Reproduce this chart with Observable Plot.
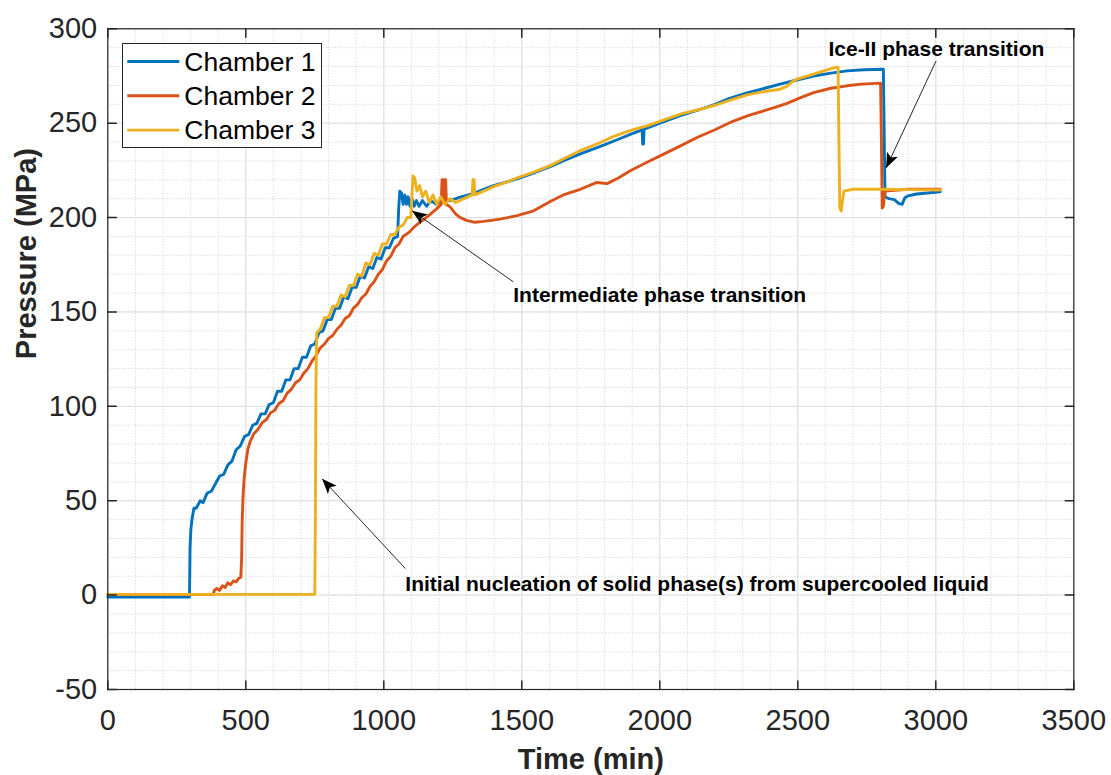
<!DOCTYPE html>
<html><head><meta charset="utf-8">
<script src="https://cdn.jsdelivr.net/npm/d3@7"></script>
<script src="https://cdn.jsdelivr.net/npm/@observablehq/plot@0.6"></script>
<style>
body{margin:0;background:#fff;}
#wrap{position:relative;width:1111px;height:775px;}
#legend{position:absolute;left:121.7px;top:42.7px;width:200.3px;height:105px;border:1px solid #262626;background:#fff;box-sizing:border-box;}
</style></head><body><div id="wrap"><div id="legend"></div></div>
<script>
// ---------- data ----------
const seriesNames = ["Chamber 1", "Chamber 2", "Chamber 3"];
const seriesColors = ["#0072BD", "#D95319", "#EDB120"];

const c1Time = [0, 296, 298, 301, 305, 312, 320, 335, 345, 360,
  375, 390, 405, 420, 435, 450, 465, 480, 495, 510,
  525, 540, 555, 570, 585, 600, 615, 630, 645, 660,
  675, 690, 705, 720, 735, 750, 765, 780, 795, 810,
  825, 840, 855, 870, 885, 900, 915, 930, 945, 960,
  975, 990, 1005, 1020, 1035, 1050, 1054, 1058, 1064, 1070,
  1076, 1082, 1088, 1095, 1102, 1110, 1118, 1128, 1140, 1155,
  1170, 1190, 1210, 1240, 1280, 1320, 1362, 1400, 1450, 1483,
  1550, 1603, 1650, 1712, 1780, 1850, 1900, 1936, 1938, 1941,
  1943, 1946, 2000, 2074, 2150, 2200, 2250, 2316, 2380, 2436,
  2500, 2557, 2620, 2678, 2740, 2810, 2813, 2816, 2830, 2850,
  2865, 2878, 2888, 2900, 2930, 2970, 3016];
const c1Pressure = [-1, -1, 25, 35, 40, 46, 46, 50, 49, 54,
  55, 59, 63, 64, 69, 71, 77, 79, 84, 85,
  90, 91, 96, 96, 101, 102, 108, 108, 114, 114,
  120, 120, 126, 126, 132, 133, 139, 140, 146, 146,
  152, 152, 158, 157, 163, 163, 169, 168, 174, 173,
  179, 178, 184, 184, 189, 190, 205, 214, 213, 207,
  212, 207, 211, 206, 210, 206, 209, 206, 209, 206,
  209, 207, 209, 209, 211, 212.5, 215, 217, 219, 220.5,
  224, 227, 230, 233.7, 237.5, 241.5, 244.5, 246.5, 239, 239,
  247, 247, 250, 254, 257.5, 260, 263, 266, 268.5, 270.7,
  273, 275, 276.5, 277.7, 278.3, 278.6, 245, 211, 210, 209.5,
  207.5, 207, 210.5, 211.5, 212.5, 213, 213.7];

const c2Time = [0, 382, 386, 395, 405, 415, 425, 435, 445, 455,
  465, 475, 482, 485, 487, 490, 494, 500, 507, 515,
  529, 545, 560, 575, 589, 605, 620, 635, 650, 665,
  680, 695, 710, 725, 740, 755, 770, 785, 800, 815,
  831, 845, 860, 875, 890, 905, 920, 935, 950, 965,
  980, 995, 1010, 1025, 1040, 1055, 1070, 1090, 1110, 1130,
  1150, 1170, 1190, 1208, 1211, 1214, 1217, 1221, 1224, 1227,
  1241, 1260, 1277, 1300, 1330, 1362, 1422, 1483, 1543, 1603,
  1650, 1712, 1772, 1809, 1850, 1893, 1950, 2014, 2075, 2135,
  2200, 2255, 2320, 2376, 2420, 2461, 2510, 2557, 2620, 2678,
  2730, 2800, 2803, 2806, 2810, 2815, 2900, 3016];
const c2Pressure = [0.3, 0.3, 2.5, 3.5, 2.5, 5, 4, 6.5, 5.5, 7.5,
  7, 9, 9.5, 20, 40, 52, 62, 70, 77, 81,
  85.5, 88, 91.5, 93, 96.5, 98, 101.5, 103, 107, 109,
  112.5, 114, 117.5, 120, 124, 127, 131, 133, 136, 137.5,
  141, 143, 146.5, 148, 152, 154, 157.5, 159.5, 163.5, 166,
  170, 172.5, 177, 179.5, 184, 186, 190, 192, 195, 197.5,
  199.5, 202, 204.5, 207, 220, 220, 209, 220, 220, 207,
  205.5, 202, 200, 198.5, 197.5, 198, 199.2, 201, 203.6, 208.5,
  212, 215, 218.6, 218, 221, 224.8, 229, 233.6, 238, 242.4,
  246.5, 250.4, 254, 256.5, 258.5, 260.5, 263.5, 266.2, 268.5, 269.8,
  270.7, 271.2, 240, 205, 206, 214, 215, 215];

const c3Time = [0, 750, 752, 754, 757, 770, 785, 800, 815, 830,
  845, 860, 875, 890, 905, 920, 935, 950, 965, 980,
  995, 1010, 1025, 1040, 1055, 1070, 1085, 1098, 1102, 1106,
  1112, 1120, 1130, 1140, 1152, 1165, 1178, 1192, 1206, 1222,
  1240, 1260, 1290, 1320, 1323, 1327, 1330, 1362, 1400, 1450,
  1483, 1550, 1603, 1650, 1712, 1780, 1833, 1900, 1953, 2000,
  2074, 2150, 2200, 2250, 2316, 2380, 2436, 2460, 2480, 2497,
  2557, 2600, 2642, 2646, 2649, 2652, 2657, 2661, 2667, 2700,
  2800, 2900, 3016];
const c3Pressure = [0.4, 0.4, 40, 110, 139, 141, 147, 147, 153, 153,
  159, 158, 164, 164, 170, 169, 176, 175, 181, 180,
  186, 186, 191, 191, 195, 196, 200, 200, 212, 222,
  221, 214, 217, 211, 214, 208, 212, 207, 211, 207,
  210, 208, 210, 212, 220, 220, 212, 214, 216.5, 219,
  221, 224.5, 227.5, 231, 235.5, 239.5, 243, 246.5, 248.6, 251,
  254.8, 257.5, 259.5, 262, 265, 266.8, 268, 269.5, 272, 273.3,
  276, 278, 279.8, 279.5, 240, 205, 203.5, 208, 214, 215,
  215, 214.8, 214.6];

const xTicks = [0, 500, 1000, 1500, 2000, 2500, 3000, 3500];
const xTickLabels = ["0", "500", "1000", "1500", "2000", "2500", "3000", "3500"];
const yTicks = [-50, 0, 50, 100, 150, 200, 250, 300];
const yTickLabels = ["-50", "0", "50", "100", "150", "200", "250", "300"];
const xLabel = "Time (min)";
const yLabel = "Pressure (MPa)";

// annotation text and arrow endpoints (data units)
const annLabels = ["Ice-II phase transition", "Intermediate phase transition",
  "Initial nucleation of solid phase(s) from supercooled liquid"];
const annTextT = [2611, 1469, 1078];
const annTextP = [289.4, 158.6, 5.6];
const annFromT = [3001, 1469, 1078];
const annFromP = [283, 166, 14.1];
const annToT = [2820, 1102.5, 776.5];
const annToP = [226.3, 203.6, 61.6];

// ---------- build tables ----------
const mk = (T, P) => T.map((t, i) => ({t, p: P[i]}));
const series = [mk(c1Time, c1Pressure), mk(c2Time, c2Pressure), mk(c3Time, c3Pressure)];
const ann = annLabels.map((label, i) => ({label, tx: annTextT[i], ty: annTextP[i],
  x1: annFromT[i], y1: annFromP[i], x2: annToT[i], y2: annToP[i]}));
const minorX = d3.range(0, 3501, 100);
const minorY = d3.range(-50, 301, 10);

const FONT = "'Liberation Sans', Arial, Helvetica, sans-serif";
const AX = "#262626";
const tickShape = {draw(ctx, l) { ctx.moveTo(0, 0); ctx.lineTo(0, -l); }};

const chart = Plot.plot({
  width: 1111, height: 775,
  marginLeft: 107.3, marginRight: 37.7, marginTop: 28.3, marginBottom: 86,
  x: {domain: [0, 3500]},
  y: {domain: [-50, 300]},
  style: {fontFamily: FONT, background: "white", overflow: "visible"},
  marks: [
    Plot.ruleX(minorX, {stroke: "#cdcdcd", strokeDasharray: "1,2", strokeWidth: 1}),
    Plot.ruleY(minorY, {stroke: "#cdcdcd", strokeDasharray: "1,2", strokeWidth: 1}),
    Plot.ruleX(xTicks, {stroke: "#dedede", strokeWidth: 1}),
    Plot.ruleY(yTicks, {stroke: "#dedede", strokeWidth: 1}),
    ...series.map((s, i) => Plot.line(s, {x: "t", y: "p", stroke: seriesColors[i], strokeWidth: 2.9, strokeLinejoin: "round"})),
    Plot.vector(xTicks, {x: d => d, frameAnchor: "bottom", length: 8.5, rotate: 0, anchor: "start", shape: tickShape, stroke: AX}),
    Plot.vector(xTicks, {x: d => d, frameAnchor: "top", length: 8.5, rotate: 180, anchor: "start", shape: tickShape, stroke: AX}),
    Plot.vector(yTicks, {y: d => d, frameAnchor: "left", length: 8.5, rotate: 90, anchor: "start", shape: tickShape, stroke: AX}),
    Plot.vector(yTicks, {y: d => d, frameAnchor: "right", length: 8.5, rotate: -90, anchor: "start", shape: tickShape, stroke: AX}),
    Plot.frame({stroke: AX, strokeWidth: 1.2}),
    Plot.axisX({ticks: xTicks, tickSize: 0, tickPadding: 20.3, fontSize: 29, fill: AX,
      tickFormat: (d) => xTickLabels[xTicks.indexOf(d)], label: null}),
    Plot.axisY({ticks: yTicks, tickSize: 0, tickPadding: 10.6, fontSize: 29, fill: AX,
      tickFormat: (d) => yTickLabels[yTicks.indexOf(d)], label: null}),
    Plot.text([xLabel], {text: d => d, frameAnchor: "bottom", dy: 79, lineAnchor: "bottom",
      fontSize: 29, fontWeight: "bold", fill: AX}),
    Plot.text([yLabel], {text: d => d, frameAnchor: "left", dx: -72.3, rotate: -90, lineAnchor: "bottom",
      fontSize: 29, fontWeight: "bold", fill: AX}),
    Plot.link(ann, {x1: "x1", y1: "y1", x2: "x2", y2: "y2", stroke: AX, strokeWidth: 1}),
    Plot.text(ann, {x: "tx", y: "ty", text: "label", textAnchor: "start", lineAnchor: "middle",
      fontSize: 21, fontWeight: "bold", fill: "#000"})
  ]
});

// filled arrowheads for annotation arrows
const svg = d3.select(chart);
const defs = svg.append("defs");
defs.append("marker").attr("id", "ahead").attr("viewBox", "-16 -7 17 14")
  .attr("markerWidth", 17).attr("markerHeight", 14).attr("refX", 0).attr("refY", 0)
  .attr("markerUnits", "userSpaceOnUse").attr("orient", "auto")
  .append("path").attr("d", "M0,0L-15,-6L-11.5,0L-15,6Z").attr("fill", "#000");
svg.selectAll("g[aria-label='link'] path").attr("marker-end", "url(#ahead)");

document.getElementById("wrap").prepend(chart);

// legend (inside plot area, as in the reference)
const lg = d3.select("#legend").append("svg").attr("width", 198).attr("height", 103)
  .style("font-family", FONT);
seriesNames.forEach((name, i) => {
  const y = 17.5 + i * 34.3;
  lg.append("line").attr("x1", 4.3).attr("x2", 56.3).attr("y1", y).attr("y2", y)
    .attr("stroke", seriesColors[i]).attr("stroke-width", 2.9);
  lg.append("text").attr("x", 61.3).attr("y", y).attr("dy", "0.35em")
    .attr("font-size", 26.5).attr("fill", "#000").text(name);
});
</script></body></html>
